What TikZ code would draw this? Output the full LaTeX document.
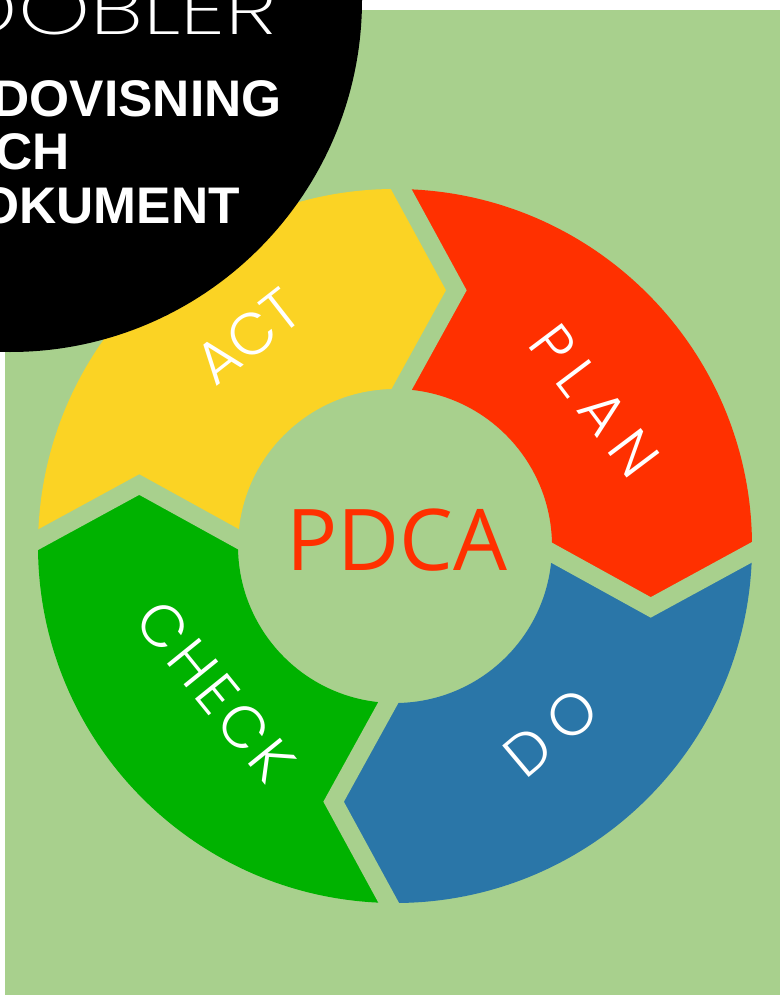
\documentclass[tikz,border=0pt]{standalone}
\usepackage{fontspec}
\usetikzlibrary{calc}

\setmainfont{Liberation Sans}
\IfFontExistsTF{Poppins Light}
  {\newfontfamily\labelfont{Poppins Light}}
  {\newfontfamily\labelfont{Poppins}}
\IfFontExistsTF{Poppins ExtraLight}
  {\newfontfamily\brandfont{Poppins ExtraLight}}
  {\let\brandfont\labelfont}
\newfontfamily\pdcafont{Open Sans}

\definecolor{bggreen}{HTML}{A8D08D}
\definecolor{actyellow}{HTML}{FBD324}
\definecolor{planred}{HTML}{FF3000}
\definecolor{doblue}{HTML}{2A76A8}
\definecolor{checkgreen}{HTML}{00B200}

\tikzset{
  gapline/.style={draw=bggreen, line width=0.36cm, line join=miter},
  phase/.style={text=white, inner sep=0pt, font=\labelfont\fontsize{33.5}{34}\selectfont},
  heading/.style={text=white, inner sep=0pt, anchor=base east, font=\bfseries\fontsize{29.3}{30}\selectfont},
}

\begin{document}
\begin{tikzpicture}[x=0.02cm, y=0.02cm]
    \useasboundingbox (0,0) rectangle (780,-1000);
    \clip (0,0) rectangle (780,-1000);

    \fill[bggreen] (5,-10) rectangle (780,-995);

    % the cycle, centred on (395,-546)
    \begin{scope}[shift={(395,-546)}]
        \def\rout{357}
        \def\rin{157}
        \def\rtip{263}

        \foreach \name/\a in {top/89, right/-1, bottom/-91, left/179}{
            \pgfmathsetmacro{\atip}{\a-12.5}
            \pgfmathsetmacro{\ain}{\a-1.5}
            \coordinate (\name-out) at (\a:\rout);
            \coordinate (\name-tip) at (\atip:\rtip);
            \coordinate (\name-in) at (\ain:\rin);
        }

        \foreach \from/\to/\a/\col in {top/right/89/planred, right/bottom/-1/doblue,
                                        bottom/left/-91/checkgreen, left/top/179/actyellow}{
            \pgfmathsetmacro{\aend}{\a-90}
            \pgfmathsetmacro{\bstart}{\a-91.5}
            \pgfmathsetmacro{\bend}{\a-1.5}
            \fill[\col] (\from-out) arc[start angle=\a, end angle=\aend, radius=\rout]
                -- (\to-tip) -- (\to-in)
                arc[start angle=\bstart, end angle=\bend, radius=\rin]
                -- (\from-tip) -- cycle;
        }

        \foreach \name in {top, right, bottom, left}
            \draw[gapline] ($(\name-tip)!1.15!(\name-out)$) -- (\name-tip) -- ($(\name-tip)!1.3!(\name-in)$);

        \node[phase, rotate=38] (act) at (125:256) {ACT};
        \node[phase, rotate=-53] (plan) at (36:247) {\addfontfeature{LetterSpace=20}PLAN};
        \node[phase, rotate=40] (do) at (-50:243) {\addfontfeature{LetterSpace=22}DO};
        \node[phase, rotate=-51] (check) at (-141:231) {\addfontfeature{LetterSpace=8}CHECK};

        \node[text=planred, inner sep=0pt, font=\pdcafont\fontsize{48.5}{49}\selectfont] (pdca) at (2,6) {PDCA};
    \end{scope}

    % black badge top left
    \fill[black] (10,0) circle[radius=352];
    \node[text=white, inner sep=0pt, anchor=base east, font=\brandfont\fontsize{40}{40}\selectfont]
        (brand) at (277,-35) {\scalebox{1.3}[1]{DOBLER}};
    \node[heading] (line1) at (282,-117) {REDOVISNING};
    \node[heading] (line2) at (70,-170) {OCH};
    \node[heading] (line3) at (240,-223) {DOKUMENT};
\end{tikzpicture}
\end{document}
